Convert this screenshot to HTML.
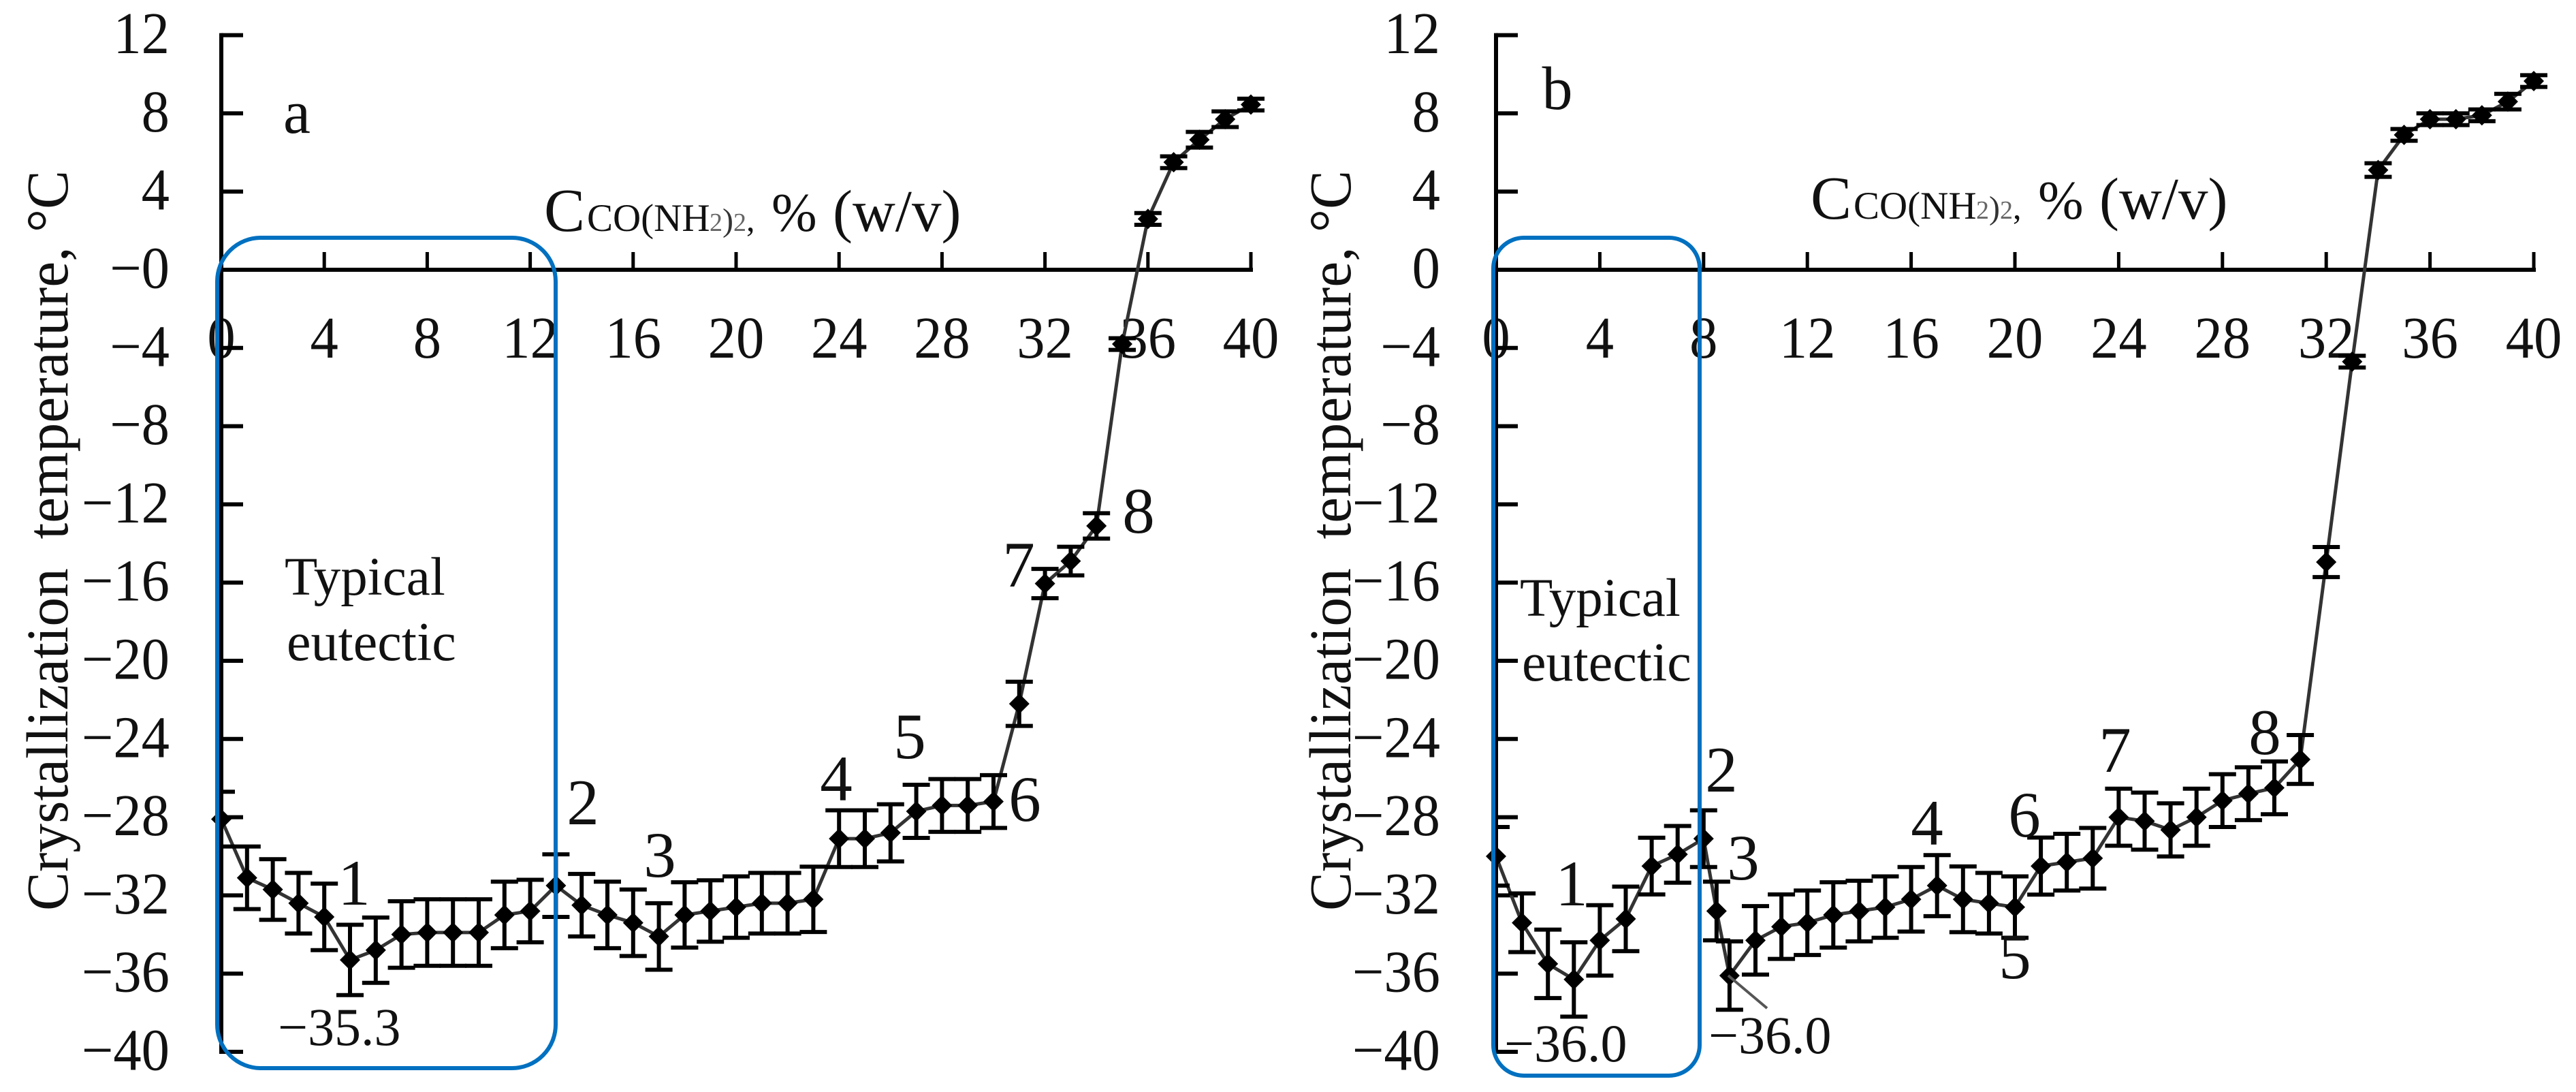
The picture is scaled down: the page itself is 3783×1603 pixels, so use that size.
<!DOCTYPE html>
<html lang="en">
<head>
<meta charset="utf-8">
<title>Crystallization temperature charts</title>
<style>
html,body{margin:0;padding:0;background:#fff;}
svg{display:block;}
text{font-family:"Liberation Serif",serif;fill:#111;}
</style>
</head>
<body>
<svg id="figure" xmlns="http://www.w3.org/2000/svg" width="3783" height="1603" viewBox="0 0 3783 1603">
<rect x="0" y="0" width="3783" height="1603" fill="#fff"/>
<g id="panel-a"></g>
<g id="panel-b"></g>

<g>
<text x="436" y="195" font-size="90" text-anchor="middle">a</text>
<text y="339" font-size="87"><tspan x="799" font-size="90">C</tspan><tspan x="862" font-size="57">CO(NH</tspan><tspan x="1042" font-size="38" fill="#666">2</tspan><tspan font-size="48" fill="#333">)</tspan><tspan font-size="38" fill="#666">2</tspan><tspan font-size="50">,</tspan><tspan x="1133" font-size="80">%</tspan><tspan x="1223" font-size="87">(w/v)</tspan></text>
<text transform="translate(99,1337) rotate(-90)" font-size="87" textLength="1087" lengthAdjust="spacingAndGlyphs" xml:space="preserve">Crystallization  temperature, °C</text>
<text x="418" y="873" font-size="79">Typical</text>
<text x="421" y="969" font-size="80">eutectic</text>
<text x="408" y="1534" font-size="78">−35.3</text>
<text x="520" y="1328" font-size="95" text-anchor="middle">1</text>
<text x="856" y="1210" font-size="95" text-anchor="middle">2</text>
<text x="969" y="1287" font-size="95" text-anchor="middle">3</text>
<text x="1228" y="1175" font-size="95" text-anchor="middle">4</text>
<text x="1336" y="1113" font-size="95" text-anchor="middle">5</text>
<text x="1505" y="1205" font-size="95" text-anchor="middle">6</text>
<text x="1496" y="861" font-size="95" text-anchor="middle">7</text>
<text x="1672" y="782" font-size="95" text-anchor="middle">8</text>
<rect x="319" y="349" width="497" height="1219" rx="64" ry="64" fill="none" stroke="#0070C0" stroke-width="6"/>
</g>

<g>
<text x="2287" y="160" font-size="90" text-anchor="middle">b</text>
<text y="321" font-size="87"><tspan x="2659" font-size="90">C</tspan><tspan x="2722" font-size="57">CO(NH</tspan><tspan x="2902" font-size="38" fill="#666">2</tspan><tspan font-size="48" fill="#333">)</tspan><tspan font-size="38" fill="#666">2</tspan><tspan font-size="50">,</tspan><tspan x="2993" font-size="80">%</tspan><tspan x="3083" font-size="87">(w/v)</tspan></text>
<text transform="translate(1983,1337) rotate(-90)" font-size="87" textLength="1087" lengthAdjust="spacingAndGlyphs" xml:space="preserve">Crystallization  temperature, °C</text>
<text x="2232" y="904" font-size="79">Typical</text>
<text x="2235" y="999" font-size="80">eutectic</text>
<text x="2209" y="1558" font-size="78">−36.0</text>
<text x="2509" y="1546" font-size="78">−36.0</text>
<line x1="2538" y1="1432" x2="2595" y2="1480" stroke="#555" stroke-width="4"/>
<text x="2308" y="1329" font-size="95" text-anchor="middle">1</text>
<text x="2528" y="1162" font-size="95" text-anchor="middle">2</text>
<text x="2560" y="1291" font-size="95" text-anchor="middle">3</text>
<text x="2830" y="1240" font-size="95" text-anchor="middle">4</text>
<text x="2959" y="1436" font-size="95" text-anchor="middle">5</text>
<text x="2973" y="1228" font-size="95" text-anchor="middle">6</text>
<text x="3106" y="1133" font-size="95" text-anchor="middle">7</text>
<text x="3326" y="1107" font-size="95" text-anchor="middle">8</text>
<rect x="2193" y="349" width="303" height="1230" rx="45" ry="45" fill="none" stroke="#0070C0" stroke-width="6"/>
</g>
</svg>
<script>
const xTicks = [0, 4, 8, 12, 16, 20, 24, 28, 32, 36, 40];
const xTickLabels = ['0', '4', '8', '12', '16', '20', '24', '28', '32', '36', '40'];
const yTicks = [12, 8, 4, 0, -4, -8, -12, -16, -20, -24, -28, -32, -36, -40];
const yTickLabelsA = ['12', '8', '4', '−0', '−4', '−8', '−12', '−16', '−20', '−24', '−28', '−32', '−36', '−40'];
const yTickLabelsB = ['12', '8', '4', '0', '−4', '−8', '−12', '−16', '−20', '−24', '−28', '−32', '−36', '−40'];

const concentrationA = [0, 1, 2, 3, 4, 5, 6, 7, 8, 9, 10, 11, 12, 13, 14, 15, 16, 17, 18, 19, 20, 21, 22, 23, 24, 25, 26, 27, 28, 29, 30, 31, 32, 33, 34, 35, 36, 37, 38, 39, 40];
const temperatureA = [-28.1, -31.1, -31.7, -32.4, -33.1, -35.3, -34.8, -34.0, -33.9, -33.9, -33.9, -33.0, -32.8, -31.5, -32.5, -33.0, -33.4, -34.1, -33.0, -32.8, -32.6, -32.4, -32.4, -32.2, -29.1, -29.1, -28.8, -27.7, -27.4, -27.4, -27.2, -22.2, -16.05, -14.9, -13.1, -3.8, 2.6, 5.5, 6.65, 7.7, 8.45];
const errorA = [1.4, 1.6, 1.55, 1.55, 1.7, 1.8, 1.67, 1.7, 1.7, 1.7, 1.7, 1.7, 1.6, 1.6, 1.6, 1.7, 1.7, 1.7, 1.67, 1.57, 1.57, 1.55, 1.55, 1.67, 1.45, 1.45, 1.46, 1.36, 1.35, 1.35, 1.35, 1.13, 0.75, 0.73, 0.65, 0.3, 0.3, 0.3, 0.4, 0.4, 0.3];

const concentrationB = [0, 1, 2, 3, 4, 5, 6, 7, 8, 8.5, 9, 10, 11, 12, 13, 14, 15, 16, 17, 18, 19, 20, 21, 22, 23, 24, 25, 26, 27, 28, 29, 30, 31, 32, 33, 34, 35, 36, 37, 38, 39, 40];
const temperatureB = [-30.0, -33.4, -35.5, -36.3, -34.3, -33.2, -30.5, -29.9, -29.1, -32.8, -36.1, -34.3, -33.6, -33.4, -33.0, -32.8, -32.6, -32.2, -31.5, -32.2, -32.4, -32.6, -30.5, -30.3, -30.1, -28.0, -28.2, -28.65, -28.0, -27.15, -26.8, -26.5, -25.05, -14.95, -4.7, 5.1, 6.9, 7.7, 7.7, 7.9, 8.6, 9.65];
const errorB = [1.5, 1.5, 1.75, 1.9, 1.8, 1.65, 1.45, 1.45, 1.45, 1.5, 1.75, 1.75, 1.65, 1.65, 1.67, 1.55, 1.57, 1.65, 1.56, 1.68, 1.55, 1.57, 1.46, 1.45, 1.55, 1.46, 1.46, 1.36, 1.46, 1.35, 1.35, 1.35, 1.25, 0.77, 0.3, 0.35, 0.3, 0.3, 0.3, 0.3, 0.4, 0.3];

const SVG_NS = 'http://www.w3.org/2000/svg';
const Y_ZERO = 396;
const Y_UNIT = 28.7;
const TICK_TEXT_SIZE = 87;
const TICK_TEXT_SQUEEZE = 0.95;

function yScale(value) {
  return Y_ZERO - value * Y_UNIT;
}

function makeXScale(origin, unit) {
  return function (value) {
    return origin + value * unit;
  };
}

function makeNode(tag, parent, attrs) {
  const el = document.createElementNS(SVG_NS, tag);
  for (const key in attrs) {
    el.setAttribute(key, attrs[key]);
  }
  parent.appendChild(el);
  return el;
}

function drawPanel(parent, prefix, xScale, titleRight, xs, ys, errs, yLabels) {
  const x0 = xScale(0);

  yTicks.forEach(function (tick, i) {
    const label = makeNode('text', parent, {
      transform: 'translate(' + titleRight + ',' + (yScale(tick) + 26.5) + ') scale(' + TICK_TEXT_SQUEEZE + ',1)',
      'font-size': TICK_TEXT_SIZE,
      'text-anchor': 'end'
    });
    label.textContent = yLabels[i];
    
    
  });

  xTicks.forEach(function (tick, i) {
    const label = makeNode('text', parent, {
      transform: 'translate(' + xScale(tick) + ',525) scale(' + TICK_TEXT_SQUEEZE + ',1)',
      'font-size': TICK_TEXT_SIZE,
      'text-anchor': 'middle'
    });
    label.textContent = xTickLabels[i];
    
    
  });

  const yAxis = makeNode('line', parent, {
    x1: x0, x2: x0, y1: yScale(12) - 3, y2: yScale(-40) + 3,
    stroke: '#000', 'stroke-width': 6
  });
  
  

  const xAxis = makeNode('line', parent, {
    x1: x0, x2: xScale(40) + 3, y1: yScale(0), y2: yScale(0),
    stroke: '#000', 'stroke-width': 6
  });
  
  

  yTicks.forEach(function (tick) {
    const mark = makeNode('line', parent, {
      x1: x0, x2: x0 + 32, y1: yScale(tick), y2: yScale(tick),
      stroke: '#000', 'stroke-width': 6
    });
    
    
  });

  xTicks.forEach(function (tick) {
    if (tick === 0) {
      return;
    }
    const mark = makeNode('line', parent, {
      x1: xScale(tick), x2: xScale(tick), y1: yScale(0), y2: yScale(0) - 26,
      stroke: '#000', 'stroke-width': 5
    });
    
    
  });

  const points = xs.map(function (x, i) {
    return xScale(x) + ',' + yScale(ys[i]);
  }).join(' ');
  const series = makeNode('polyline', parent, {
    points: points, fill: 'none', stroke: '#333', 'stroke-width': 5
  });
  
  

  xs.forEach(function (x, i) {
    const px = xScale(x);
    const py = yScale(ys[i]);
    const top = yScale(ys[i] + errs[i]);
    const bottom = yScale(ys[i] - errs[i]);
    const capLeft = Math.max(x0, px - 20);
    const d = 'M' + capLeft + ' ' + top + 'H' + (px + 20) +
      'M' + px + ' ' + top + 'V' + bottom +
      'M' + capLeft + ' ' + bottom + 'H' + (px + 20);
    const bar = makeNode('path', parent, { d: d, fill: 'none', stroke: '#000', 'stroke-width': 6 });
    
    

    const r = 15;
    const marker = makeNode('polygon', parent, {
      points: (px - r) + ',' + py + ' ' + px + ',' + (py - r) + ' ' + (px + r) + ',' + py + ' ' + px + ',' + (py + r),
      fill: '#000'
    });
    
    
  });
}

drawPanel(document.getElementById('panel-a'), 'panel-a', makeXScale(325, 37.8), 249, concentrationA, temperatureA, errorA, yTickLabelsA);
drawPanel(document.getElementById('panel-b'), 'panel-b', makeXScale(2197, 38.1), 2115, concentrationB, temperatureB, errorB, yTickLabelsB);
</script>
</body>
</html>
